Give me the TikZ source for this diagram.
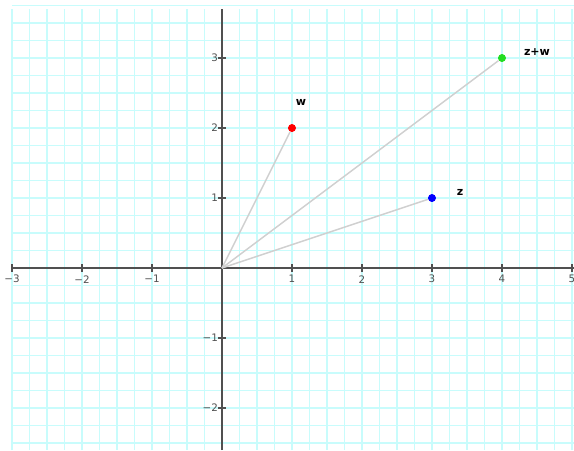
\documentclass[tikz,border=0pt]{standalone}
\usepackage{fontspec}
\setmainfont{DejaVu Sans}
\definecolor{gridc}{HTML}{C8FCFC}
\definecolor{axisc}{HTML}{505050}
\definecolor{vecc}{HTML}{D0D0D0}
\definecolor{ptgreen}{HTML}{22DD22}
\tikzset{
  gridline/.style={draw=gridc, line width=0.5pt},
  axisline/.style={draw=axisc, line width=0.6pt},
  tickmark/.style={draw=axisc, line width=0.45pt},
  ticklab/.style={font=\fontsize{4.2}{4.2}\selectfont, text=axisc, inner sep=0pt},
  vecline/.style={draw=vecc, line width=0.6pt},
  pt/.style={circle, inner sep=0pt, minimum size=0.11cm},
  ptlab/.style={font=\bfseries\fontsize{4.5}{5}\selectfont, inner sep=0pt}
}
\begin{document}
\begin{tikzpicture}[x=1cm,y=1cm]
\useasboundingbox (-3.171,-2.6) rectangle (5.029,3.829);
% grid
\foreach \i in {0,...,32} {
  \draw[gridline] ({-3+\i*0.25},-2.6) -- ({-3+\i*0.25},3.7);
}
\foreach \j in {0,...,25} {
  \draw[gridline] (-3,{-2.5+\j*0.25}) -- (5.029,{-2.5+\j*0.25});
}
% axes
\coordinate (xl) at (-3,0);
\coordinate (xr) at (5.029,0);
\coordinate (yb) at (0,-2.6);
\coordinate (yt) at (0,3.7);
\draw[axisline] (xl) -- (xr);
\draw[axisline] (yb) -- (yt);
% ticks
\foreach \x in {-3,-2,-1,1,2,3,4,5} {
  \draw[tickmark] (\x,-0.06) -- (\x,0.06);
  \node[ticklab] (tx\x) at (\x,-0.16) {\ifnum\x<0 −\the\numexpr-\x\relax\else\x\fi};
}
\foreach \y in {-2,-1,1,2,3} {
  \draw[tickmark] (-0.06,\y) -- (0.06,\y);
  \node[ticklab, anchor=east] (ty\y) at (-0.05,\y) {\ifnum\y<0 −\the\numexpr-\y\relax\else\y\fi};
}
% vectors
\coordinate (o) at (0,0);
\node[pt, fill=red] (w) at (1,2) {};
\node[pt, fill=blue] (z) at (3,1) {};
\node[pt, fill=ptgreen] (zw) at (4,3) {};
\draw[vecline] (o) -- (w);
\draw[vecline] (o) -- (z);
\draw[vecline] (o) -- (zw);
\node[pt, fill=red] at (1,2) {};
\node[pt, fill=blue] at (3,1) {};
\node[pt, fill=ptgreen] at (4,3) {};
% labels
\node[ptlab] (lw) at (1.13,2.37) {w};
\node[ptlab] (lz) at (3.4,1.08) {z};
\node[ptlab] (lzw) at (4.5,3.09) {z+w};
\end{tikzpicture}
\end{document}
